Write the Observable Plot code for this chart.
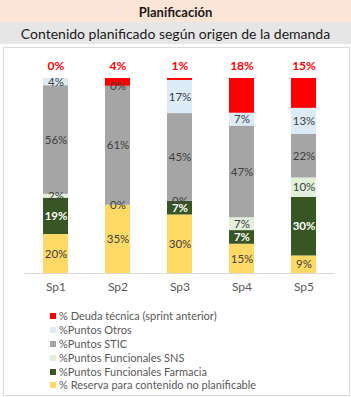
<!DOCTYPE html>
<html>
<head>
<meta charset="utf-8">
<script src="https://cdn.jsdelivr.net/npm/d3@7"></script>
<script src="https://cdn.jsdelivr.net/npm/@observablehq/plot@0.6"></script>
<style>
  html, body { margin: 0; padding: 0; background: #fff; }
  body { width: 351px; height: 397px; position: relative; overflow: hidden; font-family: Lato, "Open Sans", sans-serif; }
  #title { position: absolute; left: 0; top: 0; width: 351px; height: 22px; background: #fce4d6; text-align: center; font-weight: bold; font-size: 13px; line-height: 24px; color: #1a1a1a; }
  #subtitle { position: absolute; left: 0; top: 22px; width: 351px; height: 22px; background: #e7e6e6; text-align: center; font-size: 14px; line-height: 23px; color: #1a1a1a; }
  #box { position: absolute; left: 3px; top: 47px; width: 345px; height: 347px; border: 1px solid #d9d9d9; }
  #chart { position: absolute; left: 0; top: 47px; }
  #legend { position: absolute; left: 50px; top: 309px; font-size: 11px; color: #595959; }
  .item { height: 13.9px; line-height: 13.9px; white-space: nowrap; position: relative; }
  .sw { position: absolute; left: 0; top: 4px; width: 6px; height: 6px; }
  .lab { position: absolute; left: 9px; top: 0; }
</style>
</head>
<body>
<div id="title">Planificación</div>
<div id="subtitle">Contenido planificado según origen de la demanda</div>
<div id="box"></div>
<div id="chart"></div>
<div id="legend"></div>
<script>
const sprints = ["Sp1", "Sp2", "Sp3", "Sp4", "Sp5"];
// stacking order: bottom to top
const seriesNames = [
  "% Reserva para contenido no planificable",
  "%Puntos Funcionales Farmacia",
  "%Puntos Funcionales SNS",
  "%Puntos STIC",
  "%Puntos Otros",
  "% Deuda técnica (sprint anterior)"
];
const seriesColors = ["#ffd966", "#375623", "#e2efda", "#a5a5a5", "#ddebf7", "#ff0000"];
const reserva  = [20, 35, 30, 15, 9];
const farmacia = [18.6, 0, 7, 7, 30];
const sns      = [2, 0, 0, 6.6, 10];
const stic     = [55.7, 61, 45, 47, 22.4];
const otros    = [3.7, 0, 17, 6.6, 13.3];
const deuda    = [0, 4, 1, 17.8, 15.3];
const seriesValues = [reserva, farmacia, sns, stic, otros, deuda];

const rows = [];
sprints.forEach((s, i) => seriesNames.forEach((n, j) => rows.push({sprint: s, series: n, value: seriesValues[j][i]})));

const pct = v => Math.round(v) + "%";
const FARM = seriesNames[1], DEUDA = seriesNames[5];

const chart = Plot.plot({
  width: 351,
  height: 250,
  marginTop: 31,
  marginBottom: 24,
  marginLeft: 24.5,
  marginRight: 16.5,
  style: {fontFamily: "Lato, 'Open Sans', sans-serif", fontSize: "12px", color: "#595959", background: "transparent"},
  x: {domain: sprints, paddingInner: 0.6, paddingOuter: 0.3, label: null},
  y: {domain: [0, 100], axis: null},
  color: {domain: seriesNames, range: seriesColors},
  marks: [
    Plot.barY(rows, {x: "sprint", y: "value", fill: "series", order: seriesNames}),
    Plot.ruleY([0], {stroke: "#d9d9d9", strokeWidth: 1}),
    Plot.axisX({tickSize: 0, tickPadding: 9, fill: "#595959", fontSize: 12}),
    Plot.text(rows, Plot.stackY({
      x: "sprint", y: "value", z: "series", order: seriesNames,
      text: d => (d.series === FARM || d.series === DEUDA) ? null : pct(d.value),
      fill: "#404040", fontSize: 11.5
    })),
    Plot.text(rows, Plot.stackY({
      x: "sprint", y: "value", z: "series", order: seriesNames,
      text: d => (d.series === FARM && d.value > 0) ? pct(d.value) : null,
      fill: "#ffffff", fontWeight: "bold", fontSize: 11.5
    })),
    Plot.text(rows, Plot.stackY2({
      x: "sprint", y: "value", z: "series", order: seriesNames,
      text: d => d.series === DEUDA ? pct(d.value) : null,
      fill: "#ff0000", fontWeight: "bold", fontSize: 12, dy: -12
    }))
  ]
});
document.getElementById("chart").appendChild(chart);

const legend = document.getElementById("legend");
for (let j = seriesNames.length - 1; j >= 0; j--) {
  const it = document.createElement("div");
  it.className = "item";
  const sw = document.createElement("span");
  sw.className = "sw";
  sw.style.background = seriesColors[j];
  const lb = document.createElement("span");
  lb.className = "lab";
  lb.textContent = seriesNames[j];
  it.appendChild(sw); it.appendChild(lb);
  legend.appendChild(it);
}
</script>
</body>
</html>
